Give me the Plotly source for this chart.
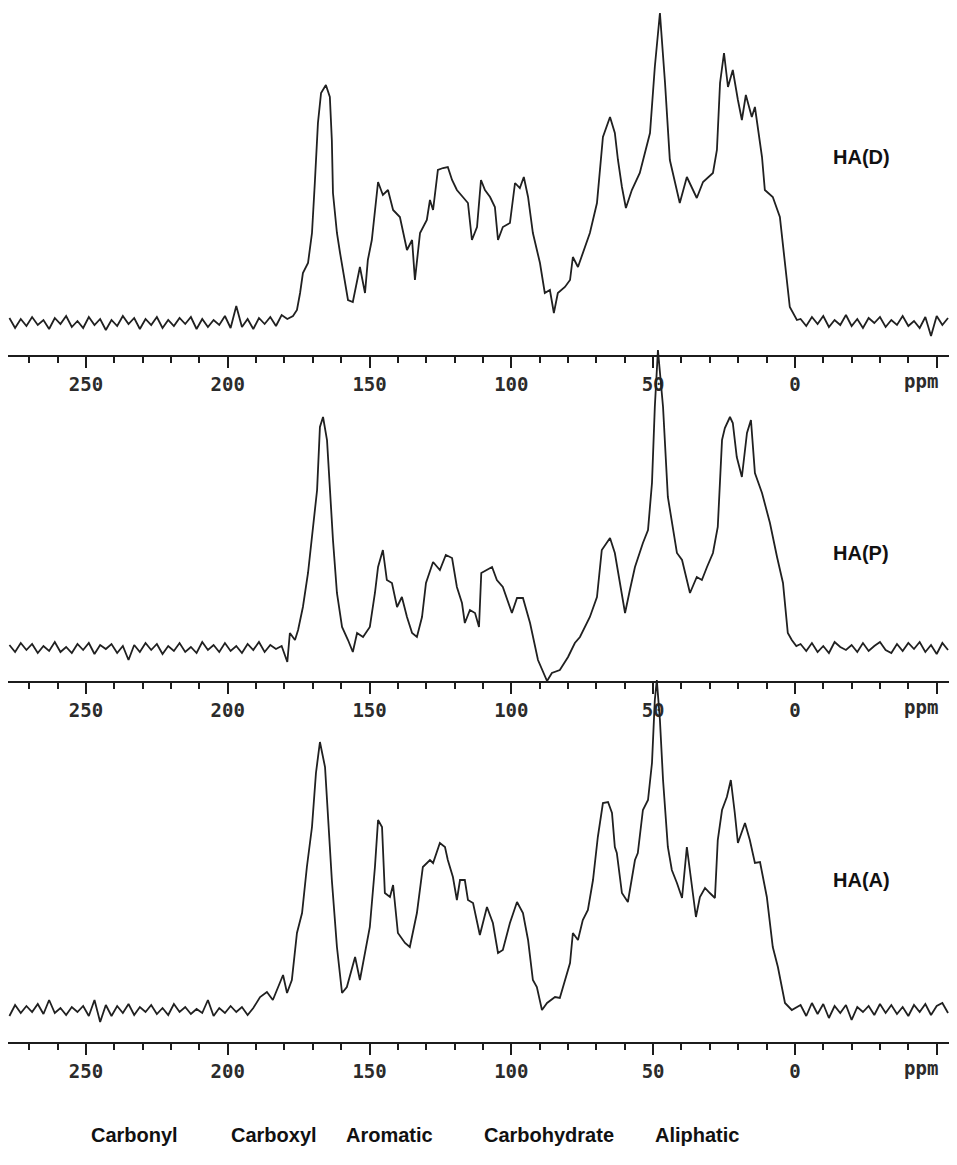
import plotly.graph_objects as go

# 13C NMR spectra of three humic acids (intensity in arbitrary units, baseline = 0)

# shared baseline sample positions (ppm)
left_base_ppm = [277, 275, 273, 271, 269, 267, 265, 263, 261, 259, 257, 255, 253, 251, 249, 247,
                 245, 243, 241, 239, 237, 235, 233, 231, 229, 227, 225, 223, 221, 219, 217, 215,
                 213, 211, 209, 207, 205, 203, 201, 199, 197, 195, 193, 191, 189, 187, 185, 183,
                 181, 179]
right_base_ppm = [-2, -4, -6, -8, -10, -12, -14, -16, -18, -20, -22, -24, -26, -28, -30, -32,
                  -34, -36, -38, -40, -42, -44, -46, -48, -50, -52, -54]

# HA(D)
d_left = [4, -6, 3, -4, 5, -3, 2, -7, 4, -2, 6, -5, 1, -6, 5, -3, 3, -8, 2, -4, 6, -2, 4, -7, 3,
          -3, 5, -6, 2, -4, 4, -2, 5, -7, 3, -5, 2, -3, 6, -6, 16, -5, 3, -7, 4, -2, 5, -4, 7, 3]
d_ppm = [177, 175.6, 174.5, 173.5, 171.7, 170.3, 169.3, 168.2, 167.1, 165.4, 164.0, 163.3, 162.9,
         161.5, 160.4, 159.3, 157.6, 155.9, 153.4, 151.6, 150.6, 149.2, 147.0, 145.3, 143.5, 141.7,
         139.3, 136.8, 135.0, 134.0, 132.2, 129.8, 128.7, 127.6, 125.9, 124.1, 122.4, 120.9, 119.2,
         117.1, 115.3, 113.9, 112.1, 110.7, 109.3, 107.5, 105.8, 104.7, 103.0, 100.5, 98.7, 97.0,
         95.6, 94.1, 92.4, 89.9, 88.2, 86.4, 85.0, 83.6, 81.1, 79.3, 78.3, 76.5, 74.8, 72.3, 69.8,
         68.8, 67.7, 65.2, 63.5, 62.4, 61.0, 59.6, 57.5, 54.7, 51.1, 49.4, 47.6, 45.8, 44.1, 40.6,
         38.1, 34.6, 32.4, 28.9, 27.5, 26.4, 25.0, 23.6, 21.9, 20.1, 18.7, 17.3, 15.2, 14.1, 11.6,
         10.6, 7.8, 5.3, 3.5, 1.8, -0.7]
d_int = [6, 12, 29, 49, 59, 89, 139, 199, 229, 237, 225, 182, 129, 89, 69, 52, 22, 20, 55, 29, 62,
         82, 140, 127, 132, 112, 105, 72, 82, 42, 89, 102, 122, 112, 152, 154, 155, 142, 132, 125,
         119, 82, 95, 142, 132, 125, 115, 82, 95, 99, 139, 134, 145, 125, 89, 59, 29, 32, 9, 29,
         35, 42, 65, 55, 69, 89, 119, 152, 185, 205, 189, 162, 135, 114, 132, 149, 189, 255, 309,
         239, 162, 119, 145, 124, 140, 149, 172, 239, 269, 235, 252, 222, 202, 227, 205, 215, 165,
         132, 125, 105, 55, 15, 2]
d_right = [3, -4, 5, -2, 6, -5, 2, -3, 7, -4, 3, -6, 4, -1, 5, -5, 2, -3, 6, -4, 1, -6, 5, -14,
           6, -3, 4]

# HA(P)
p_left = [3, -4, 5, -2, 4, -5, 2, -3, 6, -4, 1, -5, 4, -2, 5, -6, 3, -1, 4, -5, 2, -12, 3, -4, 5,
          -2, 4, -6, 2, -3, 5, -4, 1, -5, 6, -2, 3, -4, 5, -3, 2, -5, 4, -2, 6, -4, 3, -1, 2, -14]
p_ppm = [178.1, 176.3, 175.2, 173.5, 171.7, 170.0, 168.5, 167.5, 166.4, 165.0, 164.0, 162.9, 161.5,
         159.7, 157.6, 155.9, 154.4, 152.3, 149.9, 148.1, 147.0, 145.3, 143.9, 142.1, 140.3, 138.6,
         136.8, 135.0, 133.3, 131.5, 130.1, 127.6, 125.2, 123.1, 120.9, 119.2, 117.4, 116.4, 114.6,
         112.8, 111.4, 110.6, 106.8, 105.1, 103.0, 99.8, 98.0, 95.9, 93.4, 90.6, 87.4, 85.7, 82.9,
         80.0, 77.6, 75.8, 72.3, 69.8, 68.1, 65.2, 63.5, 61.7, 59.9, 58.2, 56.4, 53.6, 51.8, 50.4,
         49.4, 48.3, 46.5, 44.8, 41.6, 39.8, 37.0, 34.6, 32.8, 31.0, 28.9, 27.2, 25.7, 24.7, 22.9,
         21.9, 20.5, 18.7, 16.9, 15.5, 14.1, 11.6, 8.8, 6.3, 4.2, 2.5, 1.1, -0.5]
p_int = [15, 8, 18, 41, 75, 118, 158, 221, 231, 208, 158, 108, 55, 21, 8, -4, 15, 11, 21, 55, 81,
         98, 68, 65, 41, 51, 31, 15, 11, 31, 65, 86, 78, 93, 90, 61, 45, 25, 38, 35, 21, 75, 81,
         68, 61, 35, 50, 50, 25, -12, -33, -25, -22, -9, 5, 11, 31, 51, 98, 110, 95, 65, 35, 58,
         81, 105, 118, 165, 241, 298, 241, 151, 95, 88, 55, 71, 68, 81, 95, 121, 208, 220, 231,
         225, 191, 171, 215, 228, 175, 155, 125, 91, 65, 15, 8, 2]
p_right = [4, -3, 5, -4, 2, -5, 6, 1, -2, 3, -4, 5, -3, 2, 6, -2, -5, 4, -3, 5, -1, 6, -4, 3, -6,
           5, -2]

# HA(A)
a_left = [-6, 5, -3, 4, -2, 6, -4, 10, -3, 2, -5, 3, -2, 4, -6, 10, -12, 5, -6, 4, -3, 6, -5, 3,
          -2, 5, -4, 2, -5, 6, -2, 3, -4, 1, -3, 10, -6, 2, -3, 4, -2, 3, -5, 2]
a_ppm = [188.6, 186.2, 184.1, 182.3, 180.5, 179.1, 177.4, 175.6, 173.8, 172.1, 170.3, 168.9, 167.5,
         165.7, 164.7, 163.3, 161.5, 159.7, 158.0, 156.2, 155.1, 153.4, 151.6, 149.9, 148.1, 147.0,
         145.6, 144.6, 142.8, 141.7, 140.0, 137.5, 135.8, 133.3, 131.2, 128.7, 127.6, 125.2, 123.4,
         122.4, 120.6, 119.2, 118.1, 116.4, 115.3, 113.5, 111.1, 108.6, 106.5, 104.7, 103.0, 100.5,
         98.0, 95.9, 94.1, 92.4, 91.0, 89.2, 87.4, 84.6, 82.9, 81.1, 79.3, 78.3, 76.5, 74.8, 73.0,
         71.2, 69.5, 67.7, 65.9, 64.5, 63.5, 62.8, 61.0, 58.9, 56.4, 55.4, 53.6, 51.8, 50.4, 49.4,
         48.7, 47.6, 46.5, 44.8, 43.4, 41.6, 39.8, 38.1, 37.0, 34.9, 33.5, 31.7, 30.0, 28.2, 27.2,
         25.7, 24.0, 22.6, 21.2, 20.1, 17.6, 15.9, 14.1, 12.3, 9.9, 7.8, 6.0, 3.5, 1.1]
a_int = [13, 18, 10, 23, 35, 17, 30, 77, 97, 143, 183, 237, 268, 243, 197, 130, 63, 17, 23, 43, 53,
         30, 57, 83, 143, 190, 183, 117, 113, 125, 77, 67, 63, 97, 143, 150, 147, 167, 163, 150,
         133, 110, 130, 130, 110, 107, 75, 103, 87, 57, 60, 87, 108, 97, 70, 30, 23, 0, 7, 13, 12,
         30, 47, 77, 70, 90, 100, 130, 173, 207, 208, 197, 163, 157, 117, 108, 150, 157, 200, 210,
         247, 310, 330, 290, 230, 163, 140, 127, 112, 163, 137, 93, 113, 122, 117, 112, 170, 200,
         213, 230, 197, 167, 187, 170, 147, 148, 113, 63, 43, 7, 0]
a_right = [5, -6, 7, -4, 6, -8, 4, -3, 5, -10, 3, -2, 4, -5, 6, -3, 5, -4, 3, -6, 5, -2, 6, -5, 4,
           7, -3]

names = ["HA(D)", "HA(P)", "HA(A)"]
tick_vals = [250, 200, 150, 100, 50, 0, -50]
tick_text = ["250", "200", "150", "100", "50", "0", ""]
region_names = ["Carbonyl", "Carboxyl", "Aromatic", "Carbohydrate", "Aliphatic"]
region_ppm = [233, 183.7, 142.8, 86.7, 34.6]

spectra = [
    (left_base_ppm + d_ppm + right_base_ppm, d_left + d_int + d_right),
    (left_base_ppm + p_ppm + right_base_ppm, p_left + p_int + p_right),
    (left_base_ppm[:len(a_left)] + a_ppm + right_base_ppm, a_left + a_int + a_right),
]

# the page body has an 8px margin, so the figure starts at (8, 8) in the window
OFF = 8
W, H = 957 - OFF, 1165 - 2 * OFF


def px(x):
    return (x - OFF) / W


def py(y):
    return 1 - (y - OFF) / H


# page-pixel layout of each panel: axis line y, baseline y, top of panel
panels = [(355, 322, 8), (681, 648, 340), (1042, 1010, 670)]
label_y = [157, 553, 880]

fig = go.Figure()
ink = "#1c1c1c"
tickfont = dict(family="DejaVu Sans Mono", size=19, color="#2b2b2b", weight="bold")
labfont = dict(family="Liberation Sans", size=20, color="#111111")

for i, ((xs, ys), (ax_y, base_y, top_y)) in enumerate(zip(spectra, panels), start=1):
    sfx = "" if i == 1 else str(i)
    fig.add_trace(go.Scatter(x=xs, y=ys, mode="lines", xaxis=f"x{sfx}", yaxis=f"y{sfx}",
                             line=dict(color="#202020", width=1.8), hoverinfo="skip",
                             showlegend=False))
    fig.layout[f"xaxis{sfx}"] = dict(
        domain=[px(8), px(952)], range=[277.5, -55.4], anchor=f"y{sfx}",
        showline=True, linecolor=ink, linewidth=2, mirror=False,
        ticks="outside", ticklen=11, tickwidth=2, tickcolor=ink,
        tickmode="array", tickvals=tick_vals, ticktext=tick_text, tickfont=tickfont,
        minor=dict(ticks="outside", ticklen=6, tickwidth=2, tickcolor=ink,
                   tickmode="linear", tick0=0, dtick=10),
        showgrid=False, zeroline=False, fixedrange=True)
    fig.layout[f"yaxis{sfx}"] = dict(
        domain=[py(ax_y), py(top_y)],
        range=[-(ax_y - base_y), base_y - top_y],
        anchor=f"x{sfx}", visible=False, fixedrange=True)
    fig.add_annotation(text="ppm", xref=f"x{sfx}", yref=f"y{sfx} domain", x=-51, y=0,
                       xanchor="right", yanchor="middle", yshift=-26, showarrow=False,
                       font=tickfont)
    fig.add_annotation(text=f"<b>{names[i - 1]}</b>", xref="paper", yref="paper",
                       x=px(861), y=py(label_y[i - 1]), xanchor="center", yanchor="middle",
                       showarrow=False, font=labfont)

for name, pos in zip(region_names, region_ppm):
    fig.add_annotation(text=f"<b>{name}</b>", xref="x3", yref="paper", x=pos,
                       y=py(1135), xanchor="center", yanchor="middle", showarrow=False,
                       font=labfont)

fig.update_layout(width=W, height=H, margin=dict(l=0, r=0, t=0, b=0),
                  paper_bgcolor="white", plot_bgcolor="rgba(0,0,0,0)", showlegend=False)

fig.write_html("out.html")
